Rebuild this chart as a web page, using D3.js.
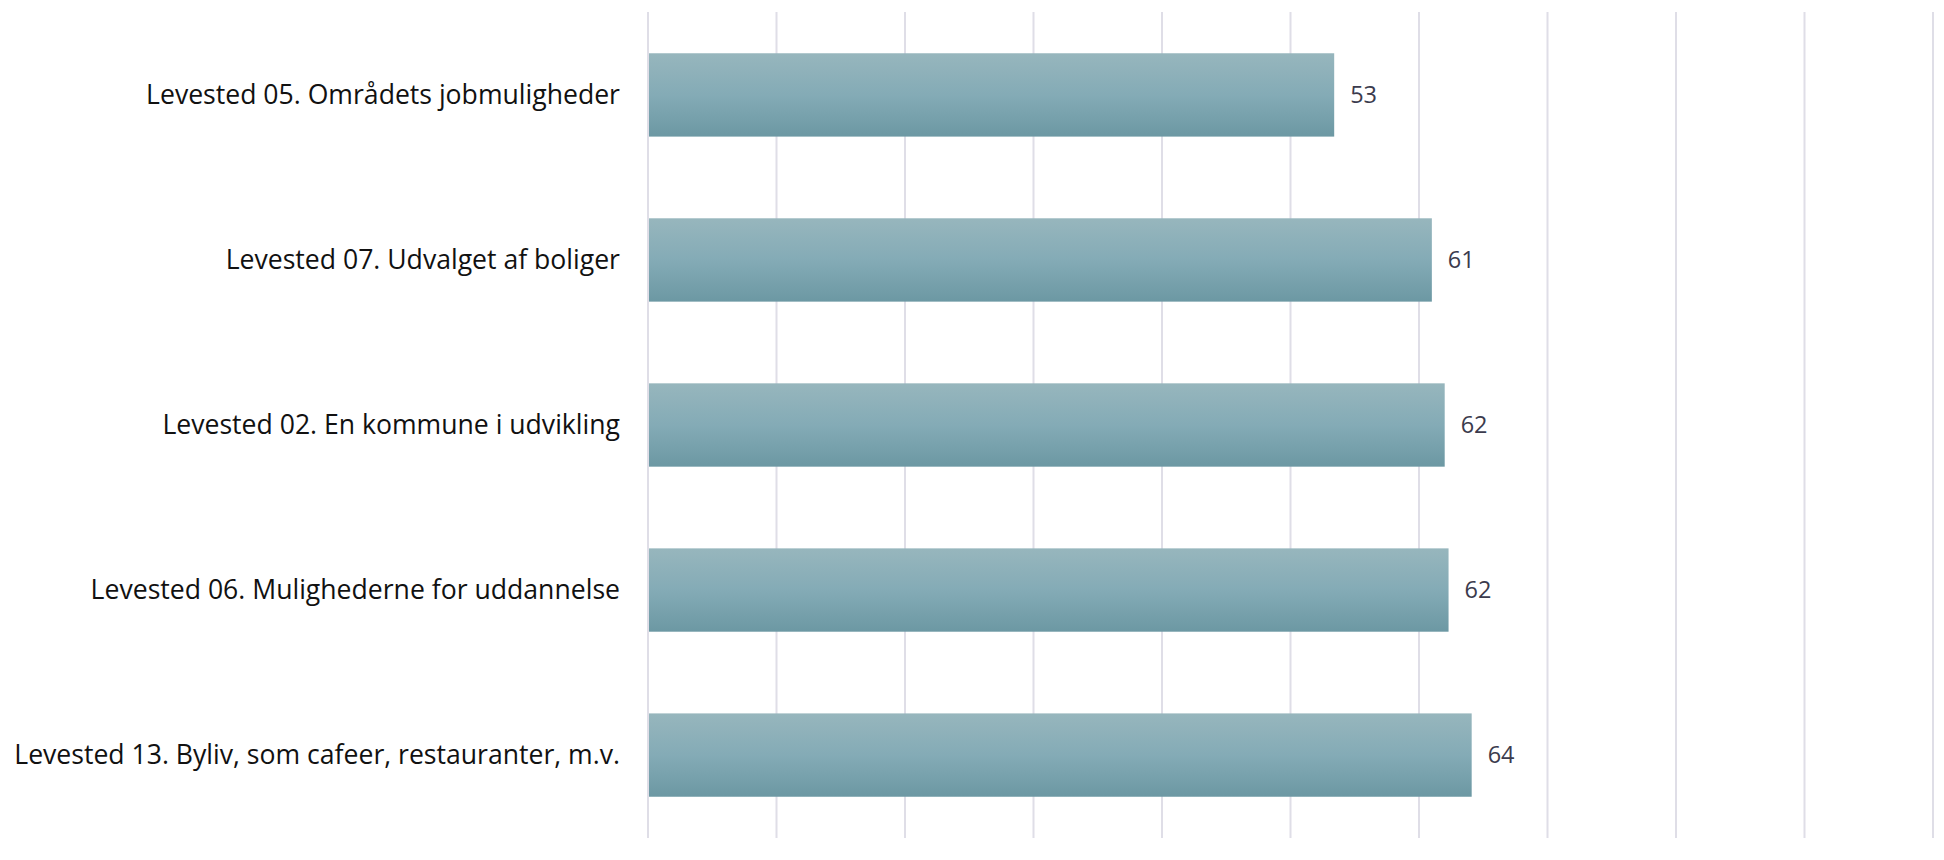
<!DOCTYPE html>
<html>
<head>
<meta charset="utf-8">
<script src="https://cdn.jsdelivr.net/npm/d3@7"></script>
<style>
  html, body { margin: 0; padding: 0; background: #ffffff; }
  svg { display: block; }
</style>
</head>
<body>
<div id="chart"></div>
<script>
// Scores per "Levested" item, 0–100 scale
const categories = [
  "Levested 05. Områdets jobmuligheder",
  "Levested 07. Udvalget af boliger",
  "Levested 02. En kommune i udvikling",
  "Levested 06. Mulighederne for uddannelse",
  "Levested 13. Byliv, som cafeer, restauranter, m.v."
];
const values = [53.4, 61.0, 62.0, 62.3, 64.1];
const gridTicks = [0, 10, 20, 30, 40, 50, 60, 70, 80, 90, 100];

const W = 1944, H = 860;
const margin = { top: 12, right: 11, bottom: 22, left: 648 };

const svg = d3.select("#chart").append("svg")
  .attr("width", W).attr("height", H);

const defs = svg.append("defs");
const grad = defs.append("linearGradient")
  .attr("id", "barFill").attr("x1", 0).attr("y1", 0).attr("x2", 0).attr("y2", 1);
grad.append("stop").attr("offset", "0%").attr("stop-color", "#97b6bd");
grad.append("stop").attr("offset", "50%").attr("stop-color", "#84abb6");
grad.append("stop").attr("offset", "100%").attr("stop-color", "#6c98a3");

const x = d3.scaleLinear().domain([0, 100]).range([margin.left, W - margin.right]);
const y = d3.scaleBand().domain(categories)
  .range([margin.top, H - margin.bottom])
  .paddingInner(0.495).paddingOuter(0.25);

// vertical gridlines
svg.append("g").selectAll("line").data(gridTicks).join("line")
  .attr("x1", d => x(d)).attr("x2", d => x(d))
  .attr("y1", margin.top).attr("y2", H - margin.bottom)
  .attr("stroke", "#dfdee7").attr("stroke-width", 2);

// bars
svg.append("g").selectAll("rect").data(values).join("rect")
  .attr("x", x(0) + 1)
  .attr("y", (d, i) => y(categories[i]))
  .attr("width", d => x(d) - x(0) - 1)
  .attr("height", y.bandwidth())
  .attr("fill", "url(#barFill)");

// value labels
svg.append("g").selectAll("text").data(values).join("text")
  .attr("x", d => x(d) + 16)
  .attr("y", (d, i) => y(categories[i]) + y.bandwidth() / 2)
  .attr("dy", "0.35em")
  .attr("font-family", "'Open Sans', sans-serif")
  .attr("font-size", 23.5)
  .attr("fill", "#3b3b4d")
  .text(d => d3.format(".0f")(d));

// category labels
svg.append("g").selectAll("text").data(categories).join("text")
  .attr("x", x(0) - 28)
  .attr("y", d => y(d) + y.bandwidth() / 2)
  .attr("dy", "0.35em")
  .attr("text-anchor", "end")
  .attr("font-family", "'Open Sans', sans-serif")
  .attr("font-size", 26.6)
  .attr("fill", "#111111")
  .text(d => d);
</script>
</body>
</html>
